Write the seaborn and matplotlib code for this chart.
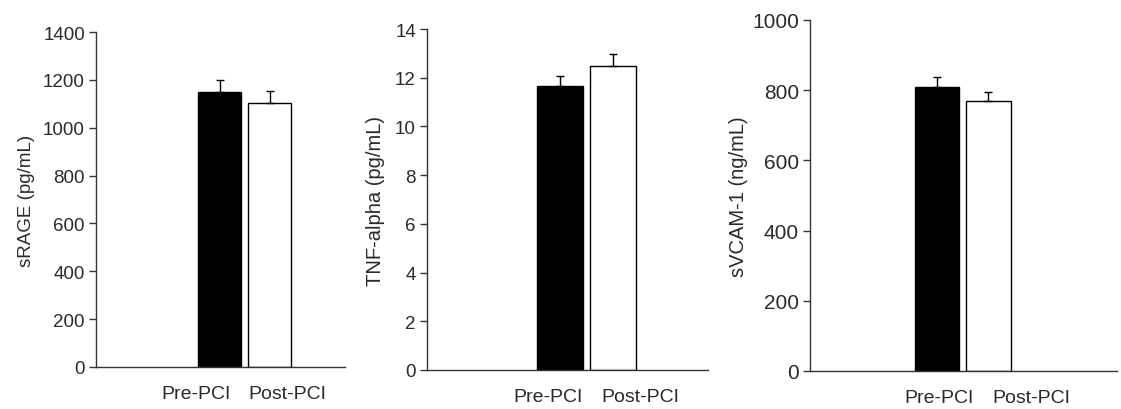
import matplotlib
matplotlib.use("Agg")
import matplotlib.pyplot as plt
import seaborn as sns
import pandas as pd
import numpy as np

groups = ["Pre-PCI", "Post-PCI"]
srage_mean = [1150, 1105]
srage_err = [48, 48]
tnf_mean = [11.65, 12.5]
tnf_err = [0.40, 0.47]
svcam_mean = [810, 768]
svcam_err = [28, 28]

ylabels = ["sRAGE (pg/mL)", "TNF-alpha (pg/mL)", "sVCAM-1 (ng/mL)"]
ylims = [(0, 1400), (0, 14), (0, 1000)]
yticks = [np.arange(0, 1401, 200), np.arange(0, 15, 2), np.arange(0, 1001, 200)]

sns.set_theme(style="white")
plt.rcParams["font.family"] = ["Liberation Sans", "DejaVu Sans"]

fig = plt.figure(figsize=(11.21, 4.10), dpi=100)
W, H = 1121, 410
# axes rectangles in pixels: left, top, right, bottom
rects = [(96, 33, 345, 368), (427, 30, 708, 371), (810, 21, 1117, 372)]
xlims = [(-2.48, 2.5), (-2.49, 2.77), (-2.47, 3.5)]
label_pos = [(-0.48, 1.34), (-0.22, 1.5), (0.04, 1.83)]
labelpads = [6, 7, 3]
ytick_sizes = [13.5, 13.5, 15]
ylabel_sizes = [13.5, 14.5, 14.5]
txt = "#2a2a2a"

series = [(srage_mean, srage_err), (tnf_mean, tnf_err), (svcam_mean, svcam_err)]

for i, (means, errs) in enumerate(series):
    l, t, r, b = rects[i]
    ax = fig.add_axes([l / W, (H - b) / H, (r - l) / W, (b - t) / H])
    df = pd.DataFrame({"group": groups, "value": means})
    sns.barplot(data=df, x="group", y="value", hue="group", order=groups,
                palette=["black", "white"], edgecolor="black", linewidth=1.0,
                width=0.86, legend=False, ax=ax, errorbar=None)
    xs = np.arange(len(groups))
    ax.errorbar(xs, means, yerr=[np.zeros(len(errs)), errs], fmt="none",
                ecolor="black", elinewidth=1.0, capsize=3, capthick=1.0, zorder=5)
    ax.set_xlim(*xlims[i])
    ax.set_ylim(*ylims[i])
    ax.set_yticks(yticks[i])
    ax.set_xticks(label_pos[i])
    ax.set_xticklabels(groups)
    ax.set_xlabel("")
    ax.set_ylabel(ylabels[i], fontsize=ylabel_sizes[i], color=txt, labelpad=labelpads[i])
    for s in ["top", "right"]:
        ax.spines[s].set_visible(False)
    for s in ["left", "bottom"]:
        ax.spines[s].set_color("#333333")
        ax.spines[s].set_linewidth(1.0)
    ax.tick_params(axis="y", direction="out", length=5, width=1, color="#333333",
                   labelsize=ytick_sizes[i], labelcolor=txt, left=True, pad=3)
    ax.tick_params(axis="x", length=0, labelsize=14, labelcolor=txt, pad=13)

fig.savefig("out.png", dpi=100)
